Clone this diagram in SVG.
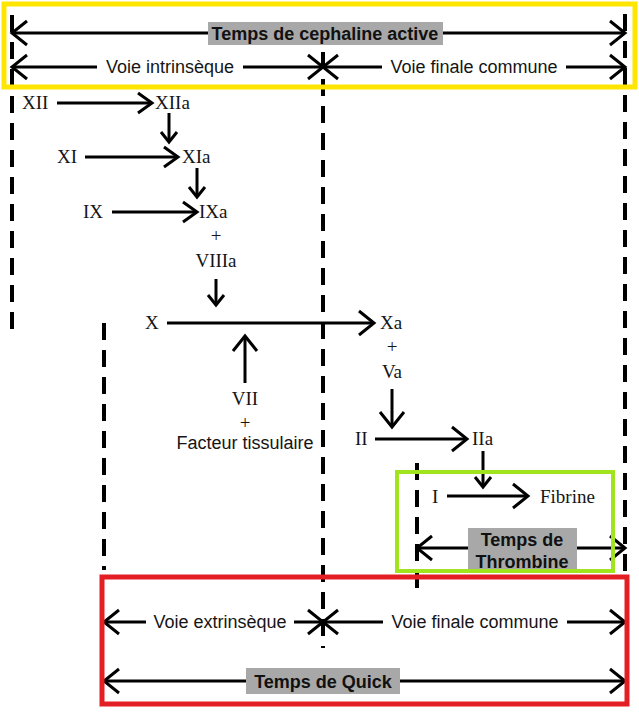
<svg xmlns="http://www.w3.org/2000/svg" width="639" height="715" viewBox="0 0 639 715">
<style>
.f{font-family:"Liberation Serif","Times New Roman",serif;font-size:19px;fill:#151515}
.s{font-family:"Liberation Sans",Arial,sans-serif;font-size:18px;fill:#151515}
.b{font-family:"Liberation Sans",Arial,sans-serif;font-size:18px;font-weight:bold;fill:#111}
.ar{stroke:#000;stroke-width:3;fill:none}
.dim{stroke:#000;stroke-width:3;fill:none;marker-start:url(#dh);marker-end:url(#dh)}
.dash{stroke:#000;stroke-width:4;stroke-dasharray:17 10;fill:none}
.gray{fill:#a8a8a8}
.wb{fill:#fff}
</style>
<defs>
<marker id="ah" markerUnits="userSpaceOnUse" orient="auto" overflow="visible" refX="0" refY="0" markerWidth="20" markerHeight="24" viewBox="-16 -12 18 24"><path d="M-14,-10 L0,0 L-14,10" fill="none" stroke="#000" stroke-width="3"/></marker>
<marker id="as" markerUnits="userSpaceOnUse" orient="auto" overflow="visible" refX="0" refY="0" markerWidth="14" markerHeight="20" viewBox="-12 -10 14 20"><path d="M-10,-8 L0,0 L-10,8" fill="none" stroke="#000" stroke-width="3"/></marker>
<marker id="ab" markerUnits="userSpaceOnUse" orient="auto" overflow="visible" refX="0" refY="0" markerWidth="20" markerHeight="28" viewBox="-17 -14 19 28"><path d="M-15,-12 L0,0 L-15,12" fill="none" stroke="#000" stroke-width="3"/></marker>
<marker id="dh" markerUnits="userSpaceOnUse" orient="auto-start-reverse" overflow="visible" refX="0" refY="0" markerWidth="20" markerHeight="28" viewBox="-17 -14 19 28"><path d="M-15,-12 L0,0 L-15,12" fill="none" stroke="#000" stroke-width="3"/></marker>
</defs>
<rect width="639" height="715" fill="#fff"/>

<g id="guides">
<line class="dash" x1="12" y1="15" x2="12" y2="332"/>
<line class="dash" x1="323" y1="52" x2="323" y2="648"/>
<line class="dash" x1="625" y1="14" x2="625" y2="578"/>
<line class="dash" x1="104" y1="323" x2="104" y2="570"/>
<line class="dash" x1="417" y1="463" x2="417" y2="598"/>
</g>

<g id="connectors">
<line class="ar" x1="57" y1="103" x2="152" y2="103" marker-end="url(#ah)"/>
<line class="ar" x1="169" y1="113" x2="169" y2="142" marker-end="url(#as)"/>
<line class="ar" x1="85" y1="157" x2="178" y2="157" marker-end="url(#ah)"/>
<line class="ar" x1="197" y1="168" x2="197" y2="197" marker-end="url(#as)"/>
<line class="ar" x1="112" y1="212" x2="197" y2="212" marker-end="url(#ah)"/>
<line class="ar" x1="216" y1="279" x2="216" y2="305" marker-end="url(#as)"/>
<line class="ar" x1="167" y1="323" x2="374" y2="323" marker-end="url(#ab)"/>
<line class="ar" x1="245" y1="383" x2="245" y2="336" marker-end="url(#ab)"/>
<line class="ar" x1="392" y1="389" x2="392" y2="427" marker-end="url(#ab)"/>
<line class="ar" x1="375" y1="439" x2="467" y2="439" marker-end="url(#ab)"/>
<line class="ar" x1="483" y1="451" x2="483" y2="487" marker-end="url(#as)"/>
<line class="ar" x1="447" y1="496" x2="528" y2="496" marker-end="url(#ab)"/>
</g>

<g id="dimensions">
<line class="dim" x1="12" y1="33" x2="625" y2="33"/>
<line class="dim" x1="12" y1="67" x2="323" y2="67"/>
<line class="dim" x1="323" y1="67" x2="625" y2="67"/>
<line class="dim" x1="417" y1="548" x2="625" y2="548"/>
<line class="dim" x1="104" y1="622" x2="323" y2="622"/>
<line class="dim" x1="323" y1="622" x2="625" y2="622"/>
<line class="dim" x1="104" y1="681" x2="625" y2="681"/>
</g>

<g id="XII"><text class="f" x="22" y="109">XII</text></g>
<g id="XIIa"><text class="f" x="155" y="109">XIIa</text></g>
<g id="XI"><text class="f" x="57" y="163">XI</text></g>
<g id="XIa"><text class="f" x="182" y="163">XIa</text></g>
<g id="IX"><text class="f" x="83" y="218">IX</text></g>
<g id="IXa-VIIIa"><text class="f" x="199" y="218">IXa</text><text class="f" x="216" y="242" text-anchor="middle">+</text><text class="f" x="216" y="267" text-anchor="middle">VIIIa</text></g>
<g id="X"><text class="f" x="145" y="329">X</text></g>
<g id="Xa-Va"><text class="f" x="380" y="329">Xa</text><text class="f" x="392" y="353" text-anchor="middle">+</text><text class="f" x="392" y="378" text-anchor="middle">Va</text></g>
<g id="VII-FT"><text class="f" x="245" y="405" text-anchor="middle">VII</text><text class="f" x="245" y="429" text-anchor="middle">+</text><text class="s" x="245" y="449" text-anchor="middle">Facteur tissulaire</text></g>
<g id="II"><text class="f" x="355" y="445">II</text></g>
<g id="IIa"><text class="f" x="472" y="445">IIa</text></g>
<g id="I"><text class="f" x="432" y="503">I</text></g>
<g id="Fibrine"><text class="f" x="540" y="503">Fibrine</text></g>

<g id="label-tca"><rect class="gray" x="208" y="22" width="235" height="23"/><text class="b" x="325" y="40" text-anchor="middle">Temps de cephaline active</text></g>
<g id="label-vi"><rect class="wb" x="97" y="56" width="146" height="22"/><text class="s" x="170" y="73" text-anchor="middle">Voie intrinsèque</text></g>
<g id="label-vfc1"><rect class="wb" x="382" y="56" width="184" height="22"/><text class="s" x="474" y="73" text-anchor="middle">Voie finale commune</text></g>
<g id="label-tt"><rect class="gray" x="468" y="528" width="109" height="44"/><text class="b" x="522" y="546" text-anchor="middle">Temps de</text><text class="b" x="522" y="568" text-anchor="middle">Thrombine</text></g>
<g id="label-ve"><rect class="wb" x="146" y="611" width="148" height="22"/><text class="s" x="220" y="628" text-anchor="middle">Voie extrinsèque</text></g>
<g id="label-vfc2"><rect class="wb" x="383" y="611" width="184" height="22"/><text class="s" x="475" y="628" text-anchor="middle">Voie finale commune</text></g>
<g id="label-tq"><rect class="gray" x="246" y="668" width="154" height="26"/><text class="b" x="323" y="688" text-anchor="middle">Temps de Quick</text></g>

<g id="frames" fill="none">
<rect x="4" y="4" width="631" height="83" stroke="#FFE600" stroke-width="5"/>
<rect x="397" y="472" width="216" height="99" stroke="#9FE41E" stroke-width="4"/>
<rect x="102" y="577" width="525" height="127" stroke="#E31E24" stroke-width="5"/>
</g>
</svg>
